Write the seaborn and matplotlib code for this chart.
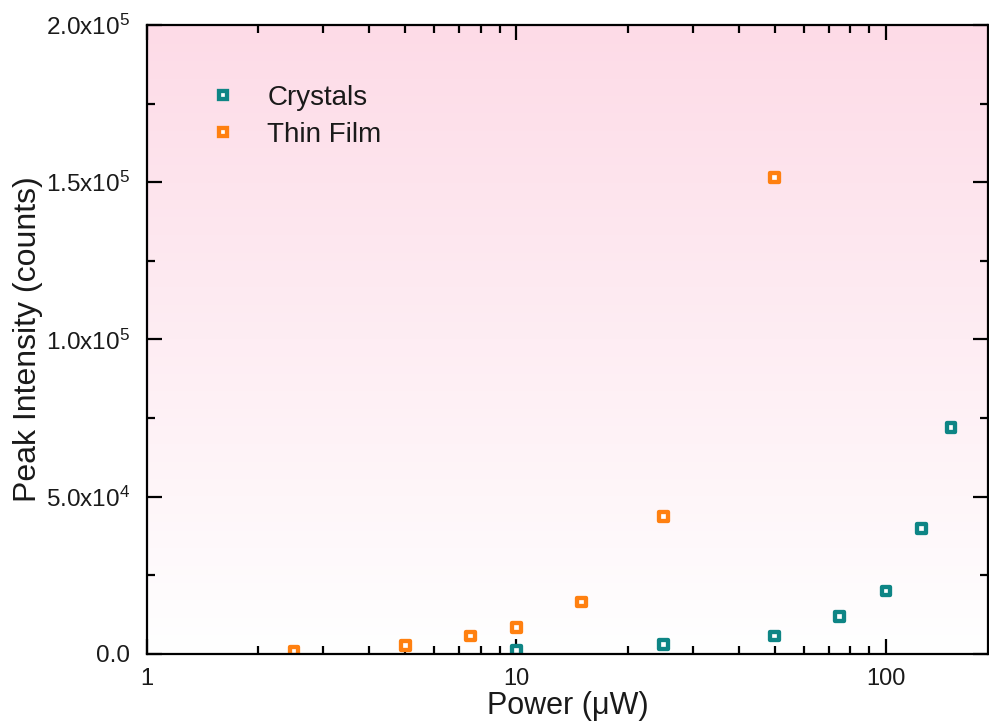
import numpy as np
import pandas as pd
import matplotlib
matplotlib.use("Agg")
import matplotlib.pyplot as plt
import seaborn as sns
from matplotlib.lines import Line2D
from matplotlib.ticker import FixedLocator, LogLocator, NullFormatter, MultipleLocator
from matplotlib.colors import LinearSegmentedColormap

# Excitation power (uW) and peak intensity (counts)
crystal_power = [10, 25, 50, 75, 100, 125, 150]
crystal_counts = [1100, 2900, 5700, 12000, 20000, 39800, 72000]
film_power = [2.5, 5, 7.5, 10, 15, 25, 50]
film_counts = [950, 2800, 5700, 8300, 16500, 43800, 151500]

series_names = ["Crystals", "Thin Film"]
series_colors = ["#0E8585", "#FF8010"]
x_ticks = [1, 10, 100]
x_tick_labels = ["1", "10", "100"]
y_ticks = [0, 50000, 100000, 150000, 200000]
y_tick_labels = ["0.0", r"5.0x10$^{4}$", r"1.0x10$^{5}$", r"1.5x10$^{5}$", r"2.0x10$^{5}$"]

sns.set_style("ticks")
plt.rcParams["font.family"] = ["Liberation Sans", "DejaVu Sans"]
plt.rcParams["mathtext.fontset"] = "custom"
plt.rcParams["mathtext.rm"] = "Liberation Sans"
plt.rcParams["mathtext.it"] = "Liberation Sans:italic"
plt.rcParams["mathtext.bf"] = "Liberation Sans:bold"
text_color = "#1a1a1a"

df = pd.DataFrame({
    "power": crystal_power + film_power,
    "counts": crystal_counts + film_counts,
    "sample": [series_names[0]] * len(crystal_power) + [series_names[1]] * len(film_power),
})

fig = plt.figure(figsize=(9.89, 7.25), dpi=100)
ax = fig.add_axes([0.1486, 0.098, 0.8505, 0.8675])

# vertical pink-to-white background wash
grad = np.linspace(1, 0, 256).reshape(-1, 1)
cmap = LinearSegmentedColormap.from_list("wash", ["#FFFFFF", "#FDDBE7"])
ax.imshow(grad, cmap=cmap, aspect="auto", extent=[0, 1, 0, 1],
          transform=ax.transAxes, zorder=0)

sns.scatterplot(data=df, x="power", y="counts", hue="sample",
                hue_order=series_names, palette=series_colors,
                marker="s", s=40, linewidth=3.1,
                ax=ax, zorder=3, legend=False)
# hollow squares: edge in series colour, white centre
for coll in ax.collections:
    coll.set_edgecolors(coll.get_facecolors())
    coll.set_facecolors("white")

ax.set_xscale("log")
ax.set_xlim(1, 189)
ax.set_ylim(0, 200000)

ax.xaxis.set_major_locator(FixedLocator(x_ticks))
ax.set_xticklabels(x_tick_labels)
ax.xaxis.set_minor_locator(LogLocator(base=10, subs=np.arange(2, 10)))
ax.xaxis.set_minor_formatter(NullFormatter())
ax.yaxis.set_major_locator(FixedLocator(y_ticks))
ax.set_yticklabels(y_tick_labels)
ax.yaxis.set_minor_locator(MultipleLocator(25000))

ax.tick_params(which="both", direction="in", top=True, right=True,
               width=1.6, color="black", labelcolor=text_color)
ax.tick_params(which="major", length=11)
ax.tick_params(which="minor", length=6)
ax.tick_params(axis="x", which="major", labelsize=17, pad=10)
ax.tick_params(axis="y", which="major", labelsize=17.5, pad=12)
for side in ax.spines.values():
    side.set_linewidth(1.6)
    side.set_color("black")
    side.set_zorder(5)

ax.set_xlabel("Power (\u03bcW)", fontsize=22, labelpad=1, color=text_color)
ax.set_ylabel("Peak Intensity (counts)", fontsize=23, labelpad=2, color=text_color)

handles = [Line2D([], [], linestyle="none", marker="s", markersize=6,
                  markeredgewidth=3.1, markeredgecolor=c, markerfacecolor="white")
           for c in series_colors]
ax.legend(handles, series_names, loc="upper left", bbox_to_anchor=(0.0737, 0.905),
          frameon=False, fontsize=20, handlelength=1.0, handletextpad=1.1,
          labelspacing=0.41, borderpad=0, borderaxespad=0, labelcolor=text_color)

fig.savefig("out.png", dpi=100)
